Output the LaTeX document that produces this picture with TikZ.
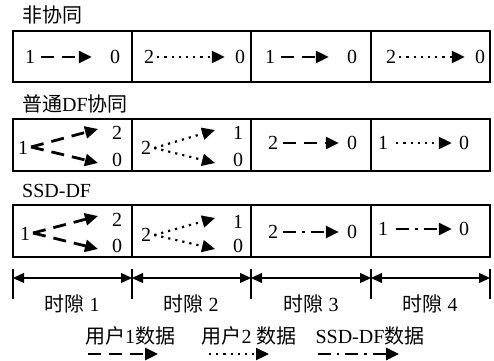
\documentclass[tikz,border=0pt]{standalone}
\usepackage{fontspec}
\setmainfont{Liberation Serif}
\newfontfamily\cjk{Noto Sans CJK SC}
\usetikzlibrary{arrows.meta}
\tikzset{
  frame/.style={draw, line width=1.3pt},
  lab/.style={inner sep=0pt, anchor=center},
  title/.style={inner sep=0pt, anchor=west},
  tipa/.style={-{Triangle[length=13pt,width=12pt]}},
  uone/.style={line width=2.8pt, dash pattern=on 13pt off 8pt, tipa},
  utwo/.style={line width=2.2pt, dash pattern=on 2.2pt off 5pt, tipa},
  uthree/.style={line width=2.8pt, dash pattern=on 13pt off 6pt on 2.4pt off 6pt, tipa},
  dim/.style={line width=1.3pt, {Triangle[length=11pt,width=10pt]}-{Triangle[length=11pt,width=10pt]}},
  tick/.style={line width=1.3pt}
}
\begin{document}
\begin{tikzpicture}[x=1pt,y=-1pt,font=\fontsize{20}{22}\selectfont]
\useasboundingbox (0,0) rectangle (494,360);

% titles
\node[title] (t1) at (22,15) {\cjk 非协同};
\node[title] (t2) at (22,104) {{\cjk 普通}DF{\cjk 协同}};
\node[title] (t3) at (22,191) {SSD-DF};

% frames
\foreach \ya/\yb in {31/82,119/171,205/257}{
  \draw[frame] (13,\ya) rectangle (490,\yb);
  \foreach \x in {132,251,371} \draw[frame] (\x,\ya) -- (\x,\yb);
}

% row 1
\node[lab] (a1) at (30,57) {1};
\node[lab] (a0) at (115,57) {0};
\node[lab] (b2) at (149,57) {2};
\node[lab] (b0) at (240,57) {0};
\node[lab] (c1) at (270,57) {1};
\node[lab] (c0) at (352,57) {0};
\node[lab] (d2) at (391,57) {2};
\node[lab] (d0) at (480,57) {0};
\draw[uone] ([xshift=6pt]a1.east) -- ([xshift=-18pt]a0.west);
\draw[utwo] ([xshift=3pt]b2.east) -- ([xshift=-10pt]b0.west);
\draw[uone] ([xshift=6pt]c1.east) -- ([xshift=-18pt]c0.west);
\draw[utwo] ([xshift=3pt]d2.east) -- ([xshift=-10pt]d0.west);

% row 2
\node[lab] (e1) at (23,148) {1};
\node[lab] (e2) at (117,133) {2};
\node[lab] (e0) at (117,160) {0};
\coordinate (es) at (31,147);
\coordinate (eu) at (98,129);
\coordinate (ed) at (98,163);
\draw[uone] (es) -- (eu);
\draw[uone] (es) -- (ed);
\node[lab] (f2) at (146,148) {2};
\node[lab] (f1) at (238,133) {1};
\node[lab] (f0) at (238,160) {0};
\coordinate (fu) at (215,130);
\coordinate (fd) at (215,163);
\draw[utwo] ([xshift=3pt]f2.east) -- (fu);
\draw[utwo] ([xshift=3pt]f2.east) -- (fd);
\node[lab] (g2) at (273,143) {2};
\node[lab] (g0) at (352,143) {0};
\draw[uone] ([xshift=5pt]g2.east) -- ([xshift=-8pt]g0.west);
\node[lab] (h1) at (383,143) {1};
\node[lab] (h0) at (464,143) {0};
\draw[utwo] ([xshift=8pt]h1.east) -- ([xshift=-7pt]h0.west);

% row 3
\node[lab] (i1) at (25,234) {1};
\node[lab] (i2) at (117,220) {2};
\node[lab] (i0) at (117,246) {0};
\coordinate (is) at (33,233);
\coordinate (iu) at (98,216);
\coordinate (id) at (98,249);
\draw[uone] (is) -- (iu);
\draw[uone] (is) -- (id);
\node[lab] (j2) at (146,235) {2};
\node[lab] (j1) at (238,222) {1};
\node[lab] (j0) at (238,246) {0};
\coordinate (ju) at (215,218);
\coordinate (jd) at (215,249);
\draw[utwo] ([xshift=3pt]j2.east) -- (ju);
\draw[utwo] ([xshift=3pt]j2.east) -- (jd);
\node[lab] (k2) at (273,232) {2};
\node[lab] (k0) at (352,232) {0};
\draw[uthree] ([xshift=5pt]k2.east) -- ([xshift=-8pt]k0.west);
\node[lab] (l1) at (383,229) {1};
\node[lab] (l0) at (464,229) {0};
\draw[uthree] ([xshift=8pt]l1.east) -- ([xshift=-7pt]l0.west);

% time slots
\foreach \x/\n in {13/0,132/1,251/2,371/3,490/4}{
  \coordinate (s\n) at (\x,278);
  \draw[tick] (\x,269) -- (\x,299);
}
\draw[dim] (s0) -- (s1);
\draw[dim] (s1) -- (s2);
\draw[dim] (s2) -- (s3);
\draw[dim] (s3) -- (s4);
\node[lab] (sl1) at (72,304) {{\cjk 时隙} 1};
\node[lab] (sl2) at (191,304) {{\cjk 时隙} 2};
\node[lab] (sl3) at (311,304) {{\cjk 时隙} 3};
\node[lab] (sl4) at (430,304) {{\cjk 时隙} 4};

% legend
\node[lab] (lg1) at (130,336) {{\cjk 用户}1{\cjk 数据}};
\node[lab] (lg2) at (249,336) {{\cjk 用户}2 {\cjk 数据}};
\node[lab] (lg3) at (370,336) {SSD-DF{\cjk 数据}};
\coordinate (la) at (88,354);
\coordinate (lb) at (158,354);
\coordinate (lc) at (209,354);
\coordinate (ld) at (269,354);
\coordinate (le) at (318,354);
\coordinate (lf) at (399,354);
\draw[uone] (la) -- (lb);
\draw[utwo] (lc) -- (ld);
\draw[uthree] (le) -- (lf);
\end{tikzpicture}
\end{document}
